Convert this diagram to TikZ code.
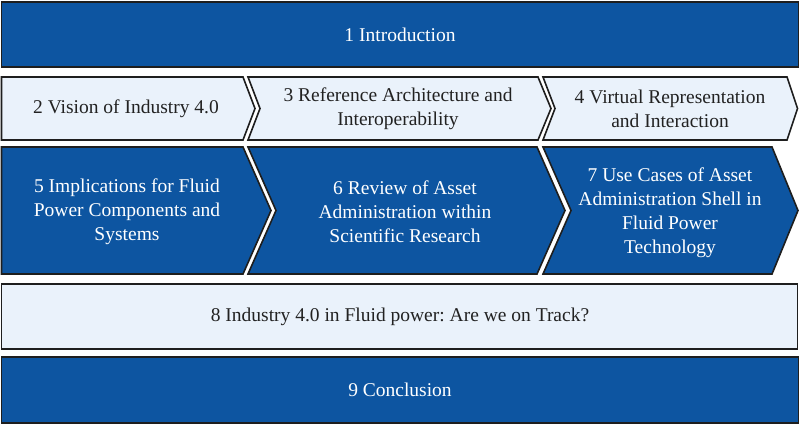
\documentclass[tikz,border=0pt]{standalone}
\usepackage{fontspec}
\setmainfont{Liberation Serif}
\frenchspacing
\definecolor{darkblue}{RGB}{13,85,161}
\definecolor{lightblue}{RGB}{234,242,251}
\definecolor{edge}{RGB}{30,30,30}
\definecolor{darktext}{RGB}{34,34,34}
\begin{document}
\begin{tikzpicture}[x=1pt,y=-1pt,
  darkshape/.style={fill=darkblue,draw=edge,line width=1.6pt,line join=miter},
  lightshape/.style={fill=lightblue,draw=edge,line width=1.6pt,line join=miter},
  lbl/.style={align=center,inner sep=0pt,font=\fontsize{19.5}{24}\selectfont},
  dlbl/.style={lbl,text=white},
  llbl/.style={lbl,text=darktext}]
\useasboundingbox (0,0) rectangle (800,425);
% row 1
\draw[darkshape] (1.5,2) rectangle (798.5,67);
\node[dlbl] (n1) at (400,35) {1 Introduction};
% row 2
\draw[lightshape] (1.5,77) -- (243,77) -- (255,108.5) -- (243,140) -- (1.5,140) -- cycle;
\draw[lightshape] (248,77) -- (538,77) -- (551,108.5) -- (538,140) -- (248,140) -- (260,108.5) -- cycle;
\draw[lightshape] (543,77) -- (787,77) -- (797.5,108.5) -- (787,140) -- (543,140) -- (555,108.5) -- cycle;
\node[llbl] (n2) at (126,108.5) {2 Vision of Industry 4.0};
\node[llbl] (n3) at (398,108.5) {3 Reference Architecture and\\Interoperability};
\node[llbl] (n4) at (670,108.5) {4 Virtual Representation\\and Interaction};
% row 3
\draw[darkshape] (1.5,147) -- (243,147) -- (271,210.5) -- (243,274) -- (1.5,274) -- cycle;
\draw[darkshape] (248,147) -- (537,147) -- (565,210.5) -- (537,274) -- (248,274) -- (276,210.5) -- cycle;
\draw[darkshape] (543,147) -- (772,147) -- (798,210.5) -- (772,274) -- (543,274) -- (571,210.5) -- cycle;
\node[dlbl] (n5) at (127,212) {5 Implications for Fluid\\Power Components and\\Systems};
\node[dlbl] (n6) at (405,212) {6 Review of Asset\\Administration within\\Scientific Research};
\node[dlbl] (n7) at (670,213) {7 Use Cases of Asset\\Administration Shell in\\Fluid Power\\Technology};
% row 4
\draw[lightshape] (1.5,284) rectangle (797.5,349);
\node[llbl] (n8) at (400,316.5) {8 Industry 4.0 in Fluid power: Are we on Track?};
% row 5
\draw[darkshape] (1.5,357) rectangle (798.5,423);
\node[dlbl] (n9) at (400,390) {9 Conclusion};
\end{tikzpicture}
\end{document}
